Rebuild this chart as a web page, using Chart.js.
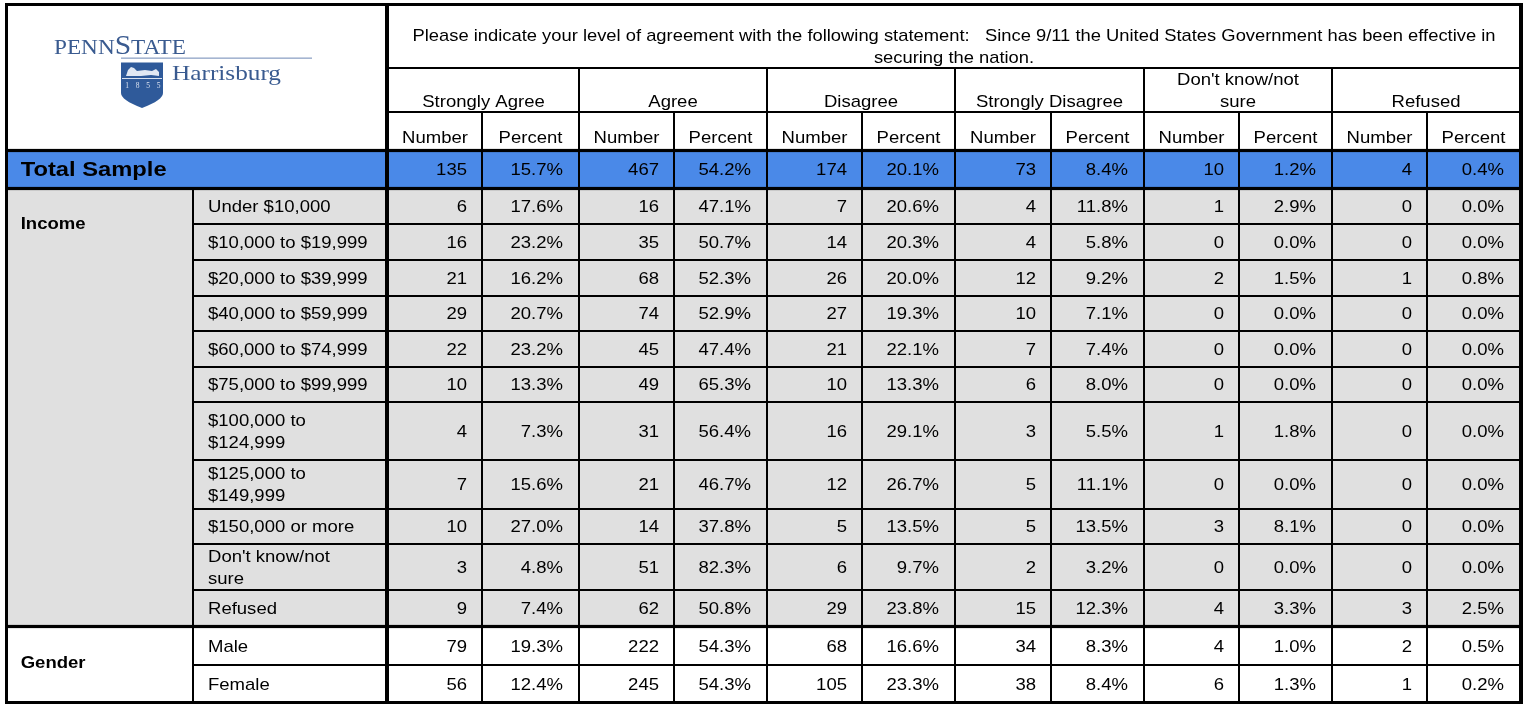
<!DOCTYPE html>
<html>
<head>
<meta charset="utf-8">
<style>
  html, body { margin: 0; padding: 0; background: #ffffff; }
  #wrap { width: 1530px; height: 704px; }
  canvas { display: block; }
</style>
<script src="https://cdn.jsdelivr.net/npm/chart.js@4.4.1/dist/chart.umd.min.js"></script>
</head>
<body>
<div id="wrap"><canvas id="chart" width="1530" height="704"></canvas></div>
<script>
// ---------------- DATA ----------------
const questionLines = [
  "Please indicate your level of agreement with the following statement:   Since 9/11 the United States Government has been effective in",
  "securing the nation."
];
const responseCategories = ["Strongly Agree", "Agree", "Disagree", "Strongly Disagree", "Don't know/not\nsure", "Refused"];
const measureLabels = ["Number", "Percent"];

const totalLabel = "Total Sample";
const totalNumbers  = [135, 467, 174, 73, 10, 4];
const totalPercents = [15.7, 54.2, 20.1, 8.4, 1.2, 0.4];

const incomeLabel = "Income";
const incomeGroups = [
  "Under $10,000", "$10,000 to $19,999", "$20,000 to $39,999", "$40,000 to $59,999",
  "$60,000 to $74,999", "$75,000 to $99,999", "$100,000 to\n$124,999", "$125,000 to\n$149,999",
  "$150,000 or more", "Don't know/not\nsure", "Refused"
];
const incomeNumbers = [
  [6, 16, 7, 4, 1, 0],
  [16, 35, 14, 4, 0, 0],
  [21, 68, 26, 12, 2, 1],
  [29, 74, 27, 10, 0, 0],
  [22, 45, 21, 7, 0, 0],
  [10, 49, 10, 6, 0, 0],
  [4, 31, 16, 3, 1, 0],
  [7, 21, 12, 5, 0, 0],
  [10, 14, 5, 5, 3, 0],
  [3, 51, 6, 2, 0, 0],
  [9, 62, 29, 15, 4, 3]
];
const incomePercents = [
  [17.6, 47.1, 20.6, 11.8, 2.9, 0.0],
  [23.2, 50.7, 20.3, 5.8, 0.0, 0.0],
  [16.2, 52.3, 20.0, 9.2, 1.5, 0.8],
  [20.7, 52.9, 19.3, 7.1, 0.0, 0.0],
  [23.2, 47.4, 22.1, 7.4, 0.0, 0.0],
  [13.3, 65.3, 13.3, 8.0, 0.0, 0.0],
  [7.3, 56.4, 29.1, 5.5, 1.8, 0.0],
  [15.6, 46.7, 26.7, 11.1, 0.0, 0.0],
  [27.0, 37.8, 13.5, 13.5, 8.1, 0.0],
  [4.8, 82.3, 9.7, 3.2, 0.0, 0.0],
  [7.4, 50.8, 23.8, 12.3, 3.3, 2.5]
];

const genderLabel = "Gender";
const genderGroups = ["Male", "Female"];
const genderNumbers = [
  [79, 222, 68, 34, 4, 2],
  [56, 245, 105, 38, 6, 1]
];
const genderPercents = [
  [19.3, 54.3, 16.6, 8.3, 1.0, 0.5],
  [12.4, 54.3, 23.3, 8.4, 1.3, 0.2]
];

// ---------------- LAYOUT (table units on the chart's linear scales) ----------------
const LAYOUT = {
  colEdges: [388, 482, 579, 674, 767, 862, 955, 1051, 1144, 1239, 1332, 1427, 1520],
  left: 6.5, labelSplit: 193, mainSplit: 387, right: 1521,
  top: 4.5, qBottom: 68, gBottom: 112, hBottom: 150.5,
  totalBottom: 188.5,
  incomeEdges: [188.5, 224, 260, 296, 331, 367, 402, 460, 509, 544, 590, 626.5],
  genderEdges: [626.5, 665, 702.5]
};
const STYLE = {
  font: '"Liberation Sans", Arial, sans-serif',
  serif: '"Liberation Serif", "DejaVu Serif", serif',
  size: 16.4, stretch: 1.13,
  blue: '#4A89E8', grey: '#E0E0E0', ink: '#000000',
  logo: '#3A5B90', logoLine: '#8FA4C6'
};

function fmtPct(v) { return v.toFixed(1) + '%'; }

const tablePlugin = {
  id: 'tablePlugin',
  afterDraw(chart) {
    const ctx = chart.ctx;
    const xs = chart.scales.x, ys = chart.scales.y;
    const X = v => xs.getPixelForValue(v);
    const Y = v => ys.getPixelForValue(v);
    const L = LAYOUT, S = STYLE;

    function rect(x1, y1, x2, y2, color) {
      ctx.fillStyle = color;
      ctx.fillRect(X(x1), Y(y1), X(x2) - X(x1), Y(y2) - Y(y1));
    }
    function hline(x1, x2, y, t) { rect(x1, y - t / 2, x2, y + t / 2, '#000'); }
    function vline(x, y1, y2, t) { rect(x - t / 2, y1, x + t / 2, y2, '#000'); }
    function text(s, x, y, align, opts) {
      opts = opts || {};
      const size = opts.size || S.size;
      ctx.save();
      ctx.font = (opts.bold ? 'bold ' : '') + size + 'px ' + S.font;
      ctx.fillStyle = S.ink;
      ctx.textAlign = align;
      ctx.textBaseline = 'alphabetic';
      ctx.translate(X(x), Y(y));
      ctx.scale(opts.stretch || S.stretch, 1);
      ctx.fillText(s, 0, 0);
      ctx.restore();
    }
    const capHalf = S.size * 0.358;
    function middleText(s, x, yTop, yBot, align, opts) {
      const lines = s.split('\n');
      const lh = 22;
      const c = (yTop + yBot) / 2;
      const first = c - (lines.length - 1) * lh / 2;
      lines.forEach((ln, i) => text(ln, x, first + i * lh + capHalf, align, opts));
    }

    // background
    rect(0, 0, 1530, 704, '#ffffff');
    rect(L.left, L.hBottom, L.right, L.totalBottom, S.blue);
    rect(L.left, L.totalBottom, L.right, L.genderEdges[0], S.grey);

    // logo
    drawLogo(ctx, X, Y);

    // question
    const cx = (L.colEdges[0] + L.colEdges[L.colEdges.length - 1]) / 2;
    text(questionLines[0], cx, 40.7, 'center', { stretch: 1.12 });
    text(questionLines[1], cx, 62.7, 'center', { stretch: 1.12 });

    // group headers (bottom aligned)
    responseCategories.forEach((cat, k) => {
      const x1 = L.colEdges[2 * k], x2 = L.colEdges[2 * k + 2];
      const lines = cat.split('\n');
      lines.forEach((ln, i) => {
        text(ln, (x1 + x2) / 2, L.gBottom - 5.3 - (lines.length - 1 - i) * 21.7, 'center');
      });
      measureLabels.forEach((m, j) => {
        const a = L.colEdges[2 * k + j], b = L.colEdges[2 * k + j + 1];
        text(m, (a + b) / 2, L.hBottom - 7.5, 'center');
      });
    });

    function valueRow(nums, pcts, yTop, yBot) {
      nums.forEach((n, k) => {
        middleText(String(n), L.colEdges[2 * k + 1] - 15, yTop, yBot, 'right');
        middleText(fmtPct(pcts[k]), L.colEdges[2 * k + 2] - 16, yTop, yBot, 'right');
      });
    }

    // total sample
    text(totalLabel, 20.7, 176, 'left', { bold: true, size: 21 });
    valueRow(totalNumbers, totalPercents, L.hBottom, L.totalBottom);

    // income
    text(incomeLabel, 20.7, 229.3, 'left', { bold: true });
    incomeGroups.forEach((g, i) => {
      const a = L.incomeEdges[i], b = L.incomeEdges[i + 1];
      middleText(g, 208, a, b, 'left');
      valueRow(incomeNumbers[i], incomePercents[i], a, b);
    });

    // gender
    text(genderLabel, 20.7, 667.7, 'left', { bold: true });
    genderGroups.forEach((g, i) => {
      const a = L.genderEdges[i], b = L.genderEdges[i + 1];
      middleText(g, 208, a, b, 'left');
      valueRow(genderNumbers[i], genderPercents[i], a, b);
    });

    // grid lines
    const thin = 2, thick = 3.2;
    const right = L.right;
    hline(L.colEdges[0], right, L.qBottom, thin);
    hline(L.colEdges[0], right, L.gBottom, thin);
    L.incomeEdges.slice(1, -1).forEach(y => hline(L.labelSplit, right, y, thin));
    L.genderEdges.slice(1, -1).forEach(y => hline(L.labelSplit, right, y, thin));
    vline(L.labelSplit, L.totalBottom, L.genderEdges[2], thin);
    for (let k = 2; k < L.colEdges.length - 1; k += 2) vline(L.colEdges[k], L.qBottom, L.genderEdges[2], thin);
    for (let k = 1; k < L.colEdges.length - 1; k += 2) vline(L.colEdges[k], L.gBottom, L.genderEdges[2], thin);
    hline(L.left - 1.5, right + 2, L.hBottom, thick);
    hline(L.left - 1.5, right + 2, L.totalBottom, thick);
    hline(L.left - 1.5, right + 2, L.genderEdges[0], thick);
    vline(L.mainSplit, L.top - 1.5, L.genderEdges[2] + 1.5, 4);
    // outer border
    hline(L.left - 1.5, right + 2, L.top, 3);
    hline(L.left - 1.5, right + 2, L.genderEdges[2], 3);
    vline(L.left, L.top - 1.5, L.genderEdges[2] + 1.5, 3);
    vline(right, L.top - 1.5, L.genderEdges[2] + 1.5, 4);
  }
};

function drawLogo(ctx, X, Y) {
  const S = STYLE;
  ctx.save();
  ctx.fillStyle = S.logo;
  ctx.textBaseline = 'alphabetic';
  ctx.textAlign = 'left';
  // PENNSTATE word mark
  const f1 = '22px ' + S.serif, f2 = '28px ' + S.serif;
  ctx.font = f1; const w1 = ctx.measureText('PENN').width;
  ctx.font = f2; const w2 = ctx.measureText('S').width;
  ctx.font = f1; const w3 = ctx.measureText('TATE').width;
  const sx = (X(186) - X(54)) / (w1 + w2 + w3);
  ctx.save();
  ctx.translate(X(54), Y(54));
  ctx.scale(sx, 1);
  ctx.font = f1; ctx.fillText('PENN', 0, 0);
  ctx.font = f2; ctx.fillText('S', w1, 0);
  ctx.font = f1; ctx.fillText('TATE', w1 + w2, 0);
  ctx.restore();
  // rule
  ctx.fillStyle = S.logoLine;
  ctx.fillRect(X(121), Y(57.5), X(312) - X(121), 1.3);
  // shield
  ctx.fillStyle = '#2F5A9A';
  ctx.beginPath();
  ctx.moveTo(X(121), Y(62.5));
  ctx.lineTo(X(163), Y(62.5));
  ctx.lineTo(X(163), Y(93));
  ctx.quadraticCurveTo(X(163), Y(100), X(142), Y(108));
  ctx.quadraticCurveTo(X(121), Y(100), X(121), Y(93));
  ctx.closePath();
  ctx.fill();
  // lion silhouette (simplified)
  ctx.fillStyle = 'rgba(235,240,248,0.95)';
  ctx.beginPath();
  ctx.moveTo(X(126), Y(76));
  ctx.lineTo(X(128), Y(70));
  ctx.lineTo(X(131), Y(67));
  ctx.lineTo(X(134), Y(68));
  ctx.lineTo(X(137), Y(71));
  ctx.lineTo(X(145), Y(70));
  ctx.lineTo(X(152), Y(71));
  ctx.lineTo(X(156), Y(69));
  ctx.lineTo(X(159), Y(72));
  ctx.lineTo(X(159), Y(76));
  ctx.lineTo(X(151), Y(75));
  ctx.lineTo(X(141), Y(76));
  ctx.closePath();
  ctx.fill();
  ctx.fillStyle = 'rgba(235,240,248,0.9)';
  ctx.fillRect(X(122), Y(78), X(162) - X(122), 1);
  ctx.font = '7.5px ' + S.serif;
  ctx.textAlign = 'center';
  ['1', '8', '5', '5'].forEach((d, i) => ctx.fillText(d, X(127 + i * 10.5), Y(87.5)));
  // Harrisburg
  ctx.fillStyle = S.logo;
  ctx.textAlign = 'left';
  ctx.font = '22px ' + S.serif;
  const wh = ctx.measureText('Harrisburg').width;
  ctx.save();
  ctx.translate(X(172), Y(80));
  ctx.scale((X(281) - X(172)) / wh, 1);
  ctx.fillText('Harrisburg', 0, 0);
  ctx.restore();
  ctx.restore();
}

new Chart(document.getElementById('chart'), {
  type: 'scatter',
  data: { datasets: [{ data: [] }] },
  options: {
    responsive: false,
    animation: false,
    devicePixelRatio: 1,
    layout: { padding: 0 },
    events: [],
    plugins: { legend: { display: false }, tooltip: { enabled: false }, title: { display: false } },
    scales: {
      x: { type: 'linear', min: 0, max: 1530, display: false },
      y: { type: 'linear', min: 0, max: 704, reverse: true, display: false }
    }
  },
  plugins: [tablePlugin]
});
</script>
</body>
</html>
